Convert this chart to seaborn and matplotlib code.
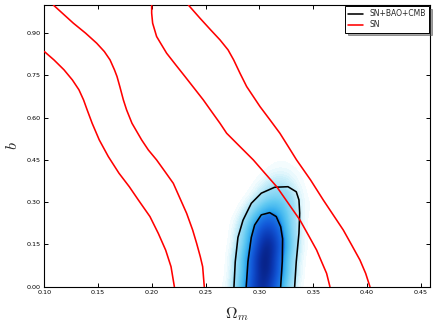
import numpy as np
import pandas as pd
import seaborn as sns
import matplotlib.pyplot as plt
from matplotlib.colors import LinearSegmentedColormap
from matplotlib.ticker import FormatStrFormatter

# SN only: 2 sigma and 1 sigma boundaries (left and right of the band)
sn_out_left_om = [0.100, 0.109, 0.1183, 0.1261, 0.1322, 0.1365, 0.1398, 0.1445, 0.1511, 0.1595,
                  0.1694, 0.179, 0.1874, 0.1982, 0.206, 0.2128, 0.2178, 0.2209]
sn_out_left_b = [0.835, 0.805, 0.770, 0.734, 0.699, 0.663, 0.628, 0.580, 0.521, 0.462,
                 0.403, 0.355, 0.308, 0.249, 0.189, 0.130, 0.071, 0.0]
sn_in_left_om = [0.1084, 0.127, 0.1384, 0.1487, 0.1558, 0.1611, 0.1652, 0.1676, 0.1702, 0.1735,
                 0.1765, 0.1815, 0.1905, 0.1967, 0.2044, 0.2122, 0.2199, 0.2261, 0.2323, 0.2379,
                 0.2416, 0.245, 0.2472, 0.2487]
sn_in_left_b = [1.0, 0.9355, 0.900, 0.8644, 0.8348, 0.8052, 0.770, 0.746, 0.7105, 0.6631,
                0.6276, 0.5802, 0.521, 0.4855, 0.450, 0.4085, 0.3671, 0.3138, 0.2605, 0.2013,
                0.1539, 0.1066, 0.071, 0.0]
sn_in_right_om = [0.1998, 0.1998, 0.2007, 0.2044, 0.2081, 0.2137, 0.2222, 0.2308, 0.2393, 0.2478,
                  0.2555, 0.2633, 0.2695, 0.2819, 0.2943, 0.3051, 0.316, 0.3268, 0.3376, 0.3454,
                  0.3531, 0.3584, 0.3624, 0.3655]
sn_in_right_b = [1.0, 0.971, 0.9355, 0.8881, 0.8644, 0.8289, 0.7874, 0.746, 0.7046, 0.6631,
                 0.6217, 0.5802, 0.5447, 0.4973, 0.450, 0.4026, 0.3552, 0.296, 0.2368, 0.1835,
                 0.1303, 0.0829, 0.0474, 0.0]
sn_out_right_om = [0.2339, 0.2447, 0.2546, 0.2633, 0.2708, 0.2760, 0.2819, 0.2881, 0.2943, 0.3005,
                   0.3098, 0.319, 0.3268, 0.3345, 0.3475, 0.3593, 0.3686, 0.3779, 0.3857, 0.3934,
                   0.3987, 0.4027]
sn_out_right_b = [1.0, 0.9532, 0.9118, 0.8762, 0.8407, 0.8052, 0.7578, 0.7105, 0.675, 0.6394,
                  0.5921, 0.5447, 0.4973, 0.450, 0.3789, 0.3079, 0.2546, 0.2013, 0.148, 0.0947,
                  0.0474, 0.0]

# SN+BAO+CMB: 2 sigma and 1 sigma contours
all_out_om = [0.2763, 0.2775, 0.2800, 0.2847, 0.2924, 0.3017, 0.3141, 0.3265, 0.3342, 0.3367, 0.3374, 0.3367, 0.3342, 0.3327]
all_out_b = [0.0, 0.089, 0.175, 0.236, 0.296, 0.332, 0.353, 0.355, 0.337, 0.308, 0.261, 0.190, 0.089, 0.0]
all_in_om = [0.2877, 0.2893, 0.2924, 0.2955, 0.3017, 0.3095, 0.3156, 0.3197, 0.3215, 0.3212, 0.3197]
all_in_b = [0.0, 0.089, 0.175, 0.219, 0.255, 0.263, 0.249, 0.213, 0.170, 0.089, 0.0]

# SN+BAO+CMB posterior (relative density) on a coarse grid
dens_om = [0.265, 0.270, 0.275, 0.280, 0.285, 0.290, 0.295, 0.300, 0.305,
           0.310, 0.315, 0.320, 0.325, 0.330, 0.335, 0.340, 0.345]
dens_b = [-0.05, 0.00, 0.05, 0.10, 0.15, 0.20, 0.25, 0.30, 0.35, 0.40, 0.45]
density = [
    [0.002, 0.010, 0.035, 0.098, 0.226, 0.419, 0.634, 0.780, 0.780, 0.634, 0.419, 0.226, 0.098, 0.035, 0.010, 0.002, 0.000],
    [0.003, 0.011, 0.040, 0.111, 0.254, 0.472, 0.714, 0.878, 0.878, 0.714, 0.472, 0.254, 0.111, 0.040, 0.011, 0.003, 0.000],
    [0.001, 0.006, 0.024, 0.073, 0.185, 0.383, 0.642, 0.875, 0.970, 0.875, 0.642, 0.383, 0.185, 0.073, 0.024, 0.006, 0.001],
    [0.001, 0.006, 0.024, 0.076, 0.191, 0.395, 0.662, 0.902, 1.000, 0.902, 0.662, 0.395, 0.191, 0.076, 0.024, 0.006, 0.001],
    [0.000, 0.003, 0.012, 0.042, 0.117, 0.268, 0.498, 0.753, 0.926, 0.926, 0.753, 0.498, 0.268, 0.117, 0.042, 0.012, 0.003],
    [0.000, 0.002, 0.009, 0.032, 0.089, 0.203, 0.377, 0.571, 0.702, 0.702, 0.571, 0.377, 0.203, 0.089, 0.032, 0.009, 0.002],
    [0.000, 0.001, 0.003, 0.010, 0.030, 0.076, 0.158, 0.265, 0.361, 0.400, 0.361, 0.265, 0.158, 0.076, 0.030, 0.010, 0.003],
    [0.000, 0.000, 0.000, 0.001, 0.004, 0.011, 0.029, 0.059, 0.099, 0.135, 0.150, 0.135, 0.099, 0.059, 0.029, 0.011, 0.004],
    [0.000, 0.000, 0.000, 0.000, 0.001, 0.002, 0.006, 0.014, 0.026, 0.040, 0.049, 0.049, 0.040, 0.026, 0.014, 0.006, 0.002],
    [0.000, 0.000, 0.000, 0.000, 0.000, 0.000, 0.001, 0.002, 0.005, 0.008, 0.011, 0.012, 0.011, 0.008, 0.005, 0.002, 0.001],
    [0.000, 0.000, 0.000, 0.000, 0.000, 0.000, 0.000, 0.000, 0.000, 0.001, 0.002, 0.002, 0.002, 0.001, 0.001, 0.000, 0.000],
]

sns.set_style("ticks")
plt.rcParams['font.family'] = ['DejaVu Sans']
plt.rcParams['mathtext.fontset'] = 'cm'

fig = plt.figure(figsize=(4.36, 3.27), dpi=100)
ax = fig.add_axes([0.1016, 0.1232, 0.8846, 0.8615])

cmap = LinearSegmentedColormap.from_list("post", [
    (0.000, '#ffffff'),
    (0.006, '#effbfe'),
    (0.020, '#cdf0fa'),
    (0.050, '#9edef6'),
    (0.150, '#62caf2'),
    (0.300, '#2aa6ee'),
    (0.340, '#1c7ce8'),
    (0.550, '#1258d8'),
    (0.800, '#0a36b0'),
    (1.000, '#081f80'),
])
dx = (dens_om[1] - dens_om[0]) / 2
dy = (dens_b[1] - dens_b[0]) / 2
ax.imshow(np.array(density), origin='lower', aspect='auto', cmap=cmap, vmin=0, vmax=1,
          interpolation='bicubic', zorder=1,
          extent=[dens_om[0] - dx, dens_om[-1] + dx, dens_b[0] - dy, dens_b[-1] + dy])

curves = [
    ("SN+BAO+CMB", "all_out", all_out_om, all_out_b),
    ("SN+BAO+CMB", "all_in", all_in_om, all_in_b),
    ("SN", "sn_out_left", sn_out_left_om, sn_out_left_b),
    ("SN", "sn_in_left", sn_in_left_om, sn_in_left_b),
    ("SN", "sn_in_right", sn_in_right_om, sn_in_right_b),
    ("SN", "sn_out_right", sn_out_right_om, sn_out_right_b),
]
rows = []
for sample, name, xs, ys in curves:
    for x, y in zip(xs, ys):
        rows.append({"sample": sample, "curve": name, "om": x, "b": y})
df = pd.DataFrame(rows)

sns.lineplot(data=df, x="om", y="b", hue="sample", units="curve", estimator=None, sort=False,
             hue_order=["SN+BAO+CMB", "SN"], palette={"SN+BAO+CMB": "black", "SN": "red"},
             lw=1.15, ax=ax, zorder=3)

ax.set_xlim(0.10, 0.4585)
ax.set_ylim(0.0, 1.0)
ax.set_xticks([0.10, 0.15, 0.20, 0.25, 0.30, 0.35, 0.40, 0.45])
ax.set_yticks([0.00, 0.15, 0.30, 0.45, 0.60, 0.75, 0.90])
ax.xaxis.set_major_formatter(FormatStrFormatter('%.2f'))
ax.yaxis.set_major_formatter(FormatStrFormatter('%.2f'))
ax.tick_params(direction='in', top=True, right=True, length=2.7, width=0.7,
               labelsize=4.6, pad=2.5, colors='black')
for s in ax.spines.values():
    s.set_linewidth(0.8)
    s.set_color('black')

ax.set_xlabel(r'$\Omega_m$', fontsize=11.5, labelpad=7)
ax.set_ylabel(r'$b$', fontsize=11.5, labelpad=5)

handles, labels = ax.get_legend_handles_labels()
leg = ax.legend(handles, labels, loc='upper right', fontsize=5.5, frameon=True, fancybox=False,
                shadow=True, edgecolor='black', borderaxespad=0.15, handlelength=2.0,
                borderpad=0.4, labelspacing=0.3)
leg.get_frame().set_linewidth(0.7)

fig.savefig("out.png", dpi=100)
